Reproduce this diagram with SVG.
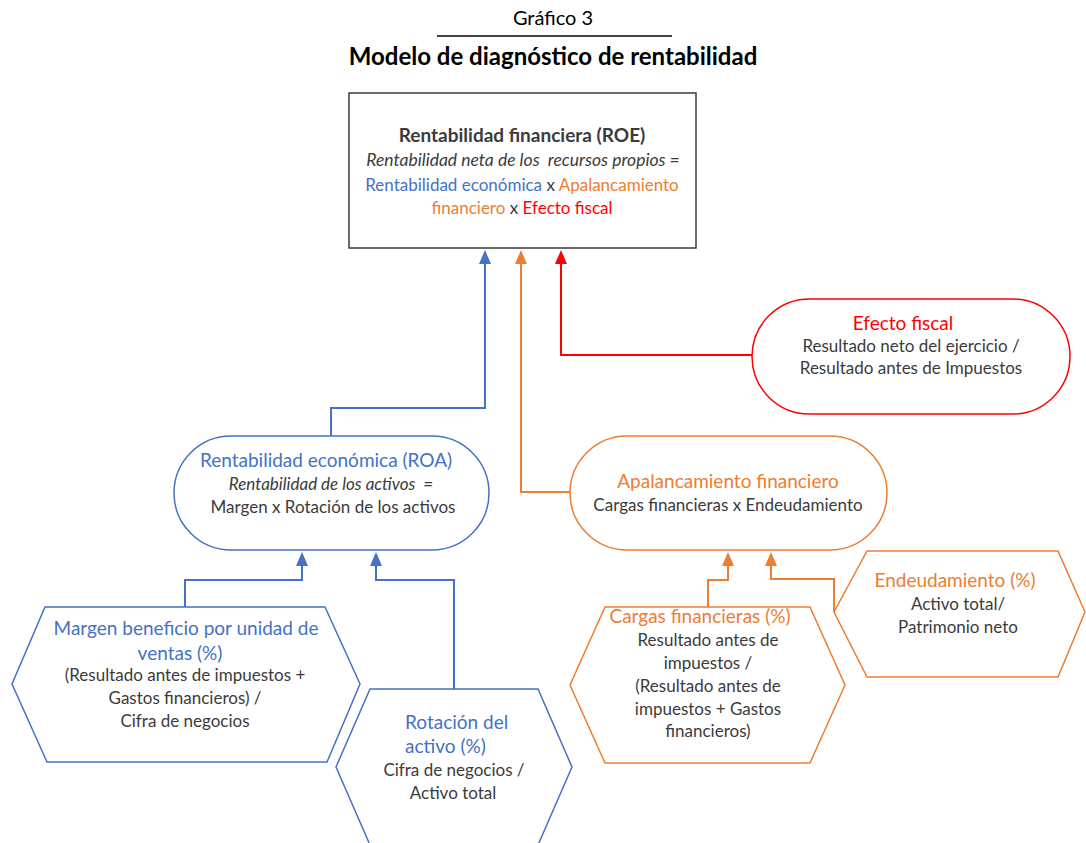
<svg xmlns="http://www.w3.org/2000/svg" width="1086" height="843" viewBox="0 0 1086 843">
<style>
text{font-family:Lato,"Open Sans","Liberation Sans",sans-serif;text-anchor:middle;fill:#3b3b3b;font-size:17px}
.b{fill:#4472C4}.o{fill:#ED7D31}.r{fill:#FF0000}
.h{font-size:19px}
.i{font-style:italic}
.sb{fill:#fff;stroke:#4472C4;stroke-width:1.5}
.so{fill:#fff;stroke:#ED7D31;stroke-width:1.5}
.sr{fill:#fff;stroke:#FF0000;stroke-width:1.5}
.cb{fill:none;stroke:#4472C4;stroke-width:2}
.co{fill:none;stroke:#ED7D31;stroke-width:2}
.cr{fill:none;stroke:#FF0000;stroke-width:2}
</style>
<rect width="1086" height="843" fill="#fff"/>
<g id="title">
<text x="553" y="25" style="font-size:20px;fill:#000">Gráfico 3</text>
<line x1="437" y1="36" x2="672" y2="36" stroke="#000" stroke-width="1.5"/>
<text x="553" y="65" style="font-size:24px;font-weight:bold;fill:#000">Modelo de diagnóstico de rentabilidad</text>
</g>
<g id="connectors">
<polyline class="cb" points="331,437 331,408 485,408 485,262"/>
<path d="M479,264 L485,250 L491,264 Z" fill="#4472C4"/>
<polyline class="co" points="575,492 521,492 521,262"/>
<path d="M515,264 L521,250 L527,264 Z" fill="#ED7D31"/>
<polyline class="cr" points="752,355 561,355 561,262"/>
<path d="M555,264 L561,250 L567,264 Z" fill="#FF0000"/>
<polyline class="cb" points="185,607 185,580 302,580 302,564"/>
<path d="M296,566 L302,552 L308,566 Z" fill="#4472C4"/>
<polyline class="cb" points="454,689 454,580 376,580 376,564"/>
<path d="M370,566 L376,552 L382,566 Z" fill="#4472C4"/>
<polyline class="co" points="708,607 708,580 728,580 728,564"/>
<path d="M722,566 L728,552 L734,566 Z" fill="#ED7D31"/>
<polyline class="co" points="834,612 834,579 771,579 771,564"/>
<path d="M765,566 L771,552 L777,566 Z" fill="#ED7D31"/>
</g>
<g id="roe">
<rect x="349" y="93" width="347" height="155" fill="#fff" stroke="#3b3b3b" stroke-width="1.5"/>
<text x="522" y="142" style="font-weight:bold;font-size:19px">Rentabilidad financiera (ROE)</text>
<text x="523" y="166" class="i" style="font-size:17.5px">Rentabilidad neta de los&#160; recursos propios =</text>
<text x="522" y="191"><tspan class="b">Rentabilidad económica</tspan> x <tspan class="o">Apalancamiento</tspan></text>
<text x="522" y="214"><tspan class="o">financiero</tspan> x <tspan class="r">Efecto fiscal</tspan></text>
</g>
<g id="efecto">
<rect x="752" y="299" width="318" height="115" rx="57.5" class="sr"/>
<text x="903" y="330" class="r h">Efecto fiscal</text>
<text x="911" y="352">Resultado neto del ejercicio /</text>
<text x="911" y="374">Resultado antes de Impuestos</text>
</g>
<g id="roa">
<rect x="174" y="436" width="315" height="114" rx="57" class="sb"/>
<text x="326" y="467" class="b h">Rentabilidad económica (ROA)</text>
<text x="331" y="490" class="i">Rentabilidad de los activos&#160; =</text>
<text x="333" y="513">Margen x Rotación de los activos</text>
</g>
<g id="apalancamiento">
<rect x="570" y="436" width="317" height="114" rx="57" class="so"/>
<text x="728" y="488" class="o h">Apalancamiento financiero</text>
<text x="728" y="511">Cargas financieras x Endeudamiento</text>
</g>
<g id="margen">
<polygon points="45,607 325,607 360,684 327,762 47,762 12,684" class="sb"/>
<text x="186" y="635" class="b h">Margen beneficio por unidad de</text>
<text x="180" y="660" class="b h">ventas (%)</text>
<text x="185" y="681">(Resultado antes de impuestos +</text>
<text x="185" y="704">Gastos financieros) /</text>
<text x="185" y="727">Cifra de negocios</text>
</g>
<g id="rotacion">
<polygon points="370,689 538,689 572,767 538,845 370,845 336,767" class="sb"/>
<text x="405" y="729" class="b h" style="text-anchor:start">Rotación del</text>
<text x="405" y="753" class="b h" style="text-anchor:start">activo (%)</text>
<text x="454" y="776">Cifra de negocios /</text>
<text x="453" y="799">Activo total</text>
</g>
<g id="cargas">
<polygon points="605,607 810,607 845,685 810,763 605,763 570,685" class="so"/>
<text x="700" y="623" class="o h">Cargas financieras (%)</text>
<text x="708" y="646">Resultado antes de</text>
<text x="708" y="669">impuestos /</text>
<text x="708" y="692">(Resultado antes de</text>
<text x="708" y="715">impuestos + Gastos</text>
<text x="708" y="737">financieros)</text>
</g>
<g id="endeudamiento">
<polygon points="867,551 1058,551 1085,612 1058,677 867,677 834,612" class="so"/>
<text x="955" y="587" class="o h">Endeudamiento (%)</text>
<text x="958" y="610">Activo total/</text>
<text x="958" y="633">Patrimonio neto</text>
</g>
</svg>
